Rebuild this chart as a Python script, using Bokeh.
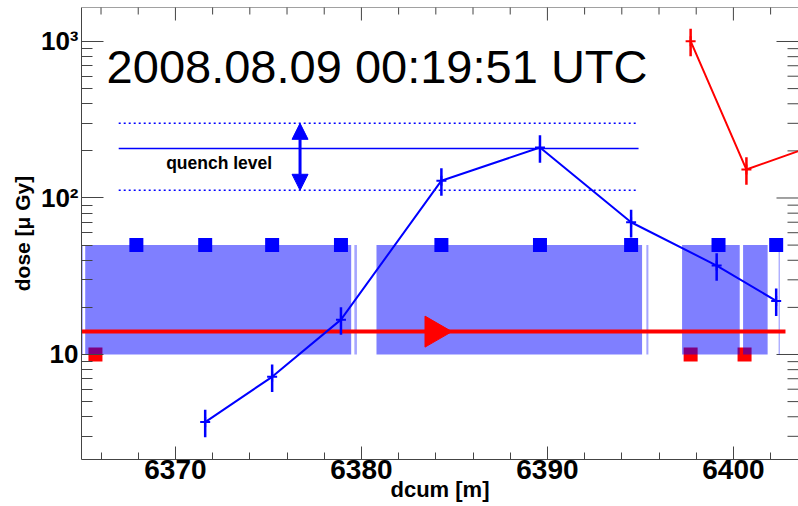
import numpy as np
from bokeh.plotting import figure
from bokeh.models import Range1d, FixedTicker, Label, Arrow, NormalHead, Span
from bokeh.embed import file_html
from bokeh.resources import INLINE

# Beam-loss monitor readings along the ring: position (dcum, m) and dose (uGy)
blue_dcum = [6371.6, 6375.2, 6378.9, 6384.3, 6389.6, 6394.5, 6399.1, 6402.3]
blue_dose = [3.7, 7.2, 16.7, 129, 210, 70, 37, 22]
red_dcum = [6397.7, 6400.7, 6405.4]
red_dose = [1005, 152, 240]
rel_err = 0.2

# Monitor positions, drawn as squares at a fixed reference level
blue_mon_dcum = [6367.9, 6371.6, 6375.2, 6378.9, 6384.3, 6389.6, 6394.5, 6399.2, 6402.3]
blue_mon_level = 50
red_mon_dcum = [6365.7, 6397.7, 6400.6]
red_mon_level = 10

# Magnet layout (long elements and short elements), drawn between two dose levels
long_start = [6365.15, 6380.81, 6397.24, 6400.52]
long_end = [6379.45, 6395.09, 6400.34, 6401.84]
short_start = [6364.95, 6379.62, 6395.32, 6402.43]
short_end = [6365.02, 6379.76, 6395.43, 6402.50]
magnet_low, magnet_high = 10, 50

# Beam line and its direction
beam_dcum = [6364.9, 6402.8]
beam_level = 14
beam_arrow_dcum = [6383.9]

# Quench level band
quench_dcum = [6366.95, 6394.9]
quench_level = 207
quench_high = 300
quench_low = 112
quench_arrow_dcum = 6376.7

x_ticks = [6370, 6380, 6390, 6400]
x_minor = [t for t in range(6366, 6404, 2) if t not in x_ticks]
y_ticks = [10, 100, 1000]
y_minor = [3, 4, 5, 6, 7, 8, 9] + [20, 30, 40, 50, 60, 70, 80, 90] + \
          [200, 300, 400, 500, 600, 700, 800, 900]
y_tick_labels = {10: "10", 100: "10²", 1000: "10³"}

X0, X1 = 6364.95, 6403.5
Y0, Y1 = 2.133, 1649

FONT = "Liberation Sans"
AX = "#444444"

p = figure(width=798, height=506, x_range=Range1d(X0, X1),
           y_range=Range1d(Y0, Y1), y_axis_type="log",
           output_backend="svg", toolbar_location=None,
           min_border_left=81, min_border_right=0,
           min_border_top=7, min_border_bottom=47)
p.grid.visible = False
p.outline_line_color = None
p.background_fill_color = "white"
p.border_fill_color = "white"

xa = p.xaxis[0]
xa.ticker = FixedTicker(ticks=x_ticks, minor_ticks=x_minor)
xa.major_label_text_font = FONT
xa.major_label_text_font_style = "bold"
xa.major_label_text_font_size = "28px"
xa.major_label_text_color = "black"
xa.major_label_standoff = 0
xa.major_tick_in, xa.major_tick_out = 13, 0
xa.minor_tick_in, xa.minor_tick_out = 7, 0
xa.axis_line_color = AX
xa.major_tick_line_color = AX
xa.minor_tick_line_color = AX
xa.axis_label = "dcum [m]"
xa.axis_label_text_font = FONT
xa.axis_label_text_font_style = "bold"
xa.axis_label_text_font_size = "22px"
xa.axis_label_text_color = "black"
xa.axis_label_standoff = -5

ya = p.yaxis[0]
ya.ticker = FixedTicker(ticks=y_ticks, minor_ticks=y_minor)
ya.major_label_overrides = y_tick_labels
ya.major_label_text_font = FONT
ya.major_label_text_font_style = "bold"
ya.major_label_text_font_size = "26px"
ya.major_label_text_color = "black"
ya.major_label_standoff = 3
ya.major_tick_in, ya.major_tick_out = 22, 0
ya.minor_tick_in, ya.minor_tick_out = 11, 0
ya.axis_line_color = AX
ya.major_tick_line_color = AX
ya.minor_tick_line_color = AX
ya.axis_label = "dose [μ Gy]"
ya.axis_label_text_font = FONT
ya.axis_label_text_font_style = "bold"
ya.axis_label_text_font_size = "21px"
ya.axis_label_text_color = "black"
ya.axis_label_standoff = 4

# mirrored ticks on the top and right edges of the frame (half of each dash is clipped)
p.add_layout(Span(location=Y1, dimension="width", line_color=AX, line_width=1))
p.scatter(x_ticks, [Y1] * len(x_ticks), marker="dash", angle=np.pi / 2, size=26,
          line_color=AX, line_width=1)
p.scatter(x_minor, [Y1] * len(x_minor), marker="dash", angle=np.pi / 2, size=14,
          line_color=AX, line_width=1)
p.scatter([X1] * len(y_ticks), y_ticks, marker="dash", size=44, line_color=AX, line_width=1)
p.scatter([X1] * len(y_minor), y_minor, marker="dash", size=22, line_color=AX, line_width=1)

# red monitor squares sit underneath the magnet boxes
p.scatter(red_mon_dcum, [red_mon_level] * len(red_mon_dcum), marker="square", size=14,
          fill_color="red", line_color=None)

# magnets
p.quad(left=long_start, right=long_end, bottom=magnet_low, top=magnet_high,
       fill_color="blue", fill_alpha=0.5, line_color=None)
p.quad(left=short_start, right=short_end, bottom=magnet_low, top=magnet_high,
       fill_color="blue", fill_alpha=0.35, line_color=None)

# blue monitor squares
p.scatter(blue_mon_dcum, [blue_mon_level] * len(blue_mon_dcum), marker="square", size=14,
          fill_color="blue", line_color=None)

# beam line with direction arrow
p.line(beam_dcum, [beam_level] * 2, line_color="red", line_width=4)
p.scatter(beam_arrow_dcum, [beam_level], marker="triangle", size=31, angle=-np.pi / 2,
          fill_color="red", line_color="red")

# quench level
p.line(quench_dcum, [quench_level] * 2, line_color="blue", line_width=1.5)
p.line(quench_dcum, [quench_high] * 2, line_color="blue", line_width=1.5, line_dash="2 3")
p.line(quench_dcum, [quench_low] * 2, line_color="blue", line_width=1.5, line_dash="2 3")
p.add_layout(Arrow(x_start=quench_arrow_dcum, y_start=quench_low,
                   x_end=quench_arrow_dcum, y_end=quench_high,
                   line_color="blue", line_width=3,
                   start=NormalHead(size=16, fill_color="blue", line_color="blue"),
                   end=NormalHead(size=16, fill_color="blue", line_color="blue")))
p.add_layout(Label(x=6369.5, y=168, text="quench level", text_font=FONT,
                   text_font_style="bold", text_font_size="17.5px",
                   text_baseline="middle", text_color="black"))


def draw_series(xs, ys, color):
    ys = np.asarray(ys, dtype=float)
    p.line(xs, ys, line_color=color, line_width=2)
    p.segment(x0=xs, y0=ys * (1 - rel_err), x1=xs, y1=ys * (1 + rel_err),
              line_color=color, line_width=2.5)
    p.scatter(xs, ys, marker="cross", size=10, line_color=color, line_width=2)


draw_series(blue_dcum, blue_dose, "blue")
draw_series(red_dcum, red_dose, "red")

# timestamp
p.add_layout(Label(x=6366.3, y=690, text="2008.08.09 00:19:51 UTC", text_font=FONT,
                   text_font_size="47px", text_baseline="alphabetic", text_color="black"))

open("out.html", "w").write(file_html(p, INLINE))
